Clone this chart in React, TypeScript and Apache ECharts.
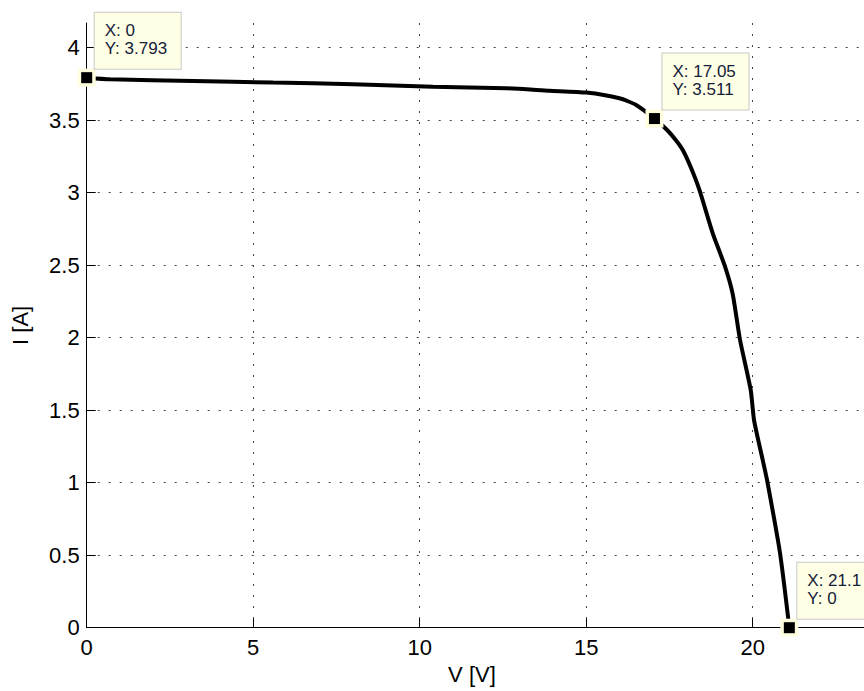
import React, { useEffect, useRef } from "react";
import * as echarts from "echarts";

// I-V curve of the module: voltage [V] and current [A]
const voltage = [0, 0.7, 3.2, 5.6, 8.0, 10.4, 12.6, 13.9, 15.0, 16.0, 16.5, 17.05, 17.43, 17.7, 17.9, 18.15, 18.4, 18.8, 19.17, 19.4, 19.62, 19.94, 20.04, 20.3, 20.43, 20.82, 21.1];
const current = [3.793, 3.782, 3.770, 3.759, 3.748, 3.731, 3.720, 3.703, 3.690, 3.651, 3.605, 3.511, 3.432, 3.36, 3.294, 3.17, 3.019, 2.72, 2.49, 2.30, 1.984, 1.64, 1.432, 1.157, 1.019, 0.515, 0];

// data cursor points
const cursorX = [0, 17.05, 21.1];
const cursorY = [3.793, 3.511, 0];

const xTicks = ["0", "5", "10", "15", "20"];

export default function App() {
  const ref = useRef<HTMLDivElement>(null);
  useEffect(() => {
    if (!ref.current) return;
    const chart = echarts.init(ref.current, null, { renderer: "svg" });
    const font = "'Liberation Sans', Arial, sans-serif";
    const lineData = voltage.map((v, i) => [v, current[i]]);
    const cursorData = cursorX.map((v, i) => [v, cursorY[i]]);
    const gridLine = { show: true, showMinLine: false, showMaxLine: false, lineStyle: { color: "#444", type: [2, 9], width: 1 } };
    chart.setOption({
      animation: false,
      backgroundColor: "#fff",
      grid: { left: 86.7, top: 23, bottom: 63.3, right: 10.8 },
      xAxis: {
        type: "value",
        min: 0,
        max: 25,
        interval: 5,
        name: "V [V]",
        nameLocation: "middle",
        nameGap: 33,
        nameTextStyle: { fontFamily: font, fontSize: 22, color: "#000", padding: [0, 62, 0, 0] },
        axisLine: { show: true, onZero: false, lineStyle: { color: "#000", width: 1 } },
        axisTick: { show: true, inside: true, length: 9, lineStyle: { color: "#000" } },
        axisLabel: {
          fontFamily: font, fontSize: 22, color: "#000", margin: 9, showMaxLabel: false,
          formatter: (v: number) => (xTicks.includes(String(v)) ? String(v) : ""),
        },
        splitLine: gridLine,
      },
      yAxis: {
        type: "value",
        min: 0,
        max: 4.17,
        interval: 0.5,
        name: "I [A]",
        nameLocation: "middle",
        nameGap: 55,
        nameTextStyle: { fontFamily: font, fontSize: 22, color: "#000" },
        axisLine: { show: true, onZero: false, lineStyle: { color: "#000", width: 1 } },
        axisTick: { show: true, inside: true, length: 9, lineStyle: { color: "#000" } },
        axisLabel: { fontFamily: font, fontSize: 22, color: "#000", margin: 7, showMaxLabel: false },
        splitLine: gridLine,
      },
      series: [
        {
          type: "line",
          data: lineData,
          showSymbol: false,
          symbol: "none",
          smooth: 0.2,
          lineStyle: { color: "#000", width: 4 },
          z: 3,
        },
        {
          type: "scatter",
          data: cursorData,
          symbol: "rect",
          symbolSize: 18,
          itemStyle: { color: "#ffffe0", opacity: 1 },
          z: 4,
          label: {
            show: true,
            position: [17, -56],
            formatter: (p: any) => `X: ${p.value[0]}\nY: ${p.value[1]}`,
            fontFamily: font,
            fontSize: 17,
            lineHeight: 18,
            color: "#14213a",
            backgroundColor: "#ffffe5",
            borderColor: "#c8c8c8",
            borderWidth: 1,
            padding: [9, 8, 11, 10],
            width: 68,
            align: "left",
          },
        },
        {
          type: "scatter",
          data: cursorData,
          symbol: "rect",
          symbolSize: 11,
          itemStyle: { color: "#000", opacity: 1 },
          z: 5,
        },
      ],
    });
    return () => chart.dispose();
  }, []);
  return (
    <div style={{ position: "absolute", left: 0, top: 0, width: 864, height: 691, overflow: "hidden", background: "#fff" }}>
      <div ref={ref} style={{ width: 930, height: 691 }} />
    </div>
  );
}
